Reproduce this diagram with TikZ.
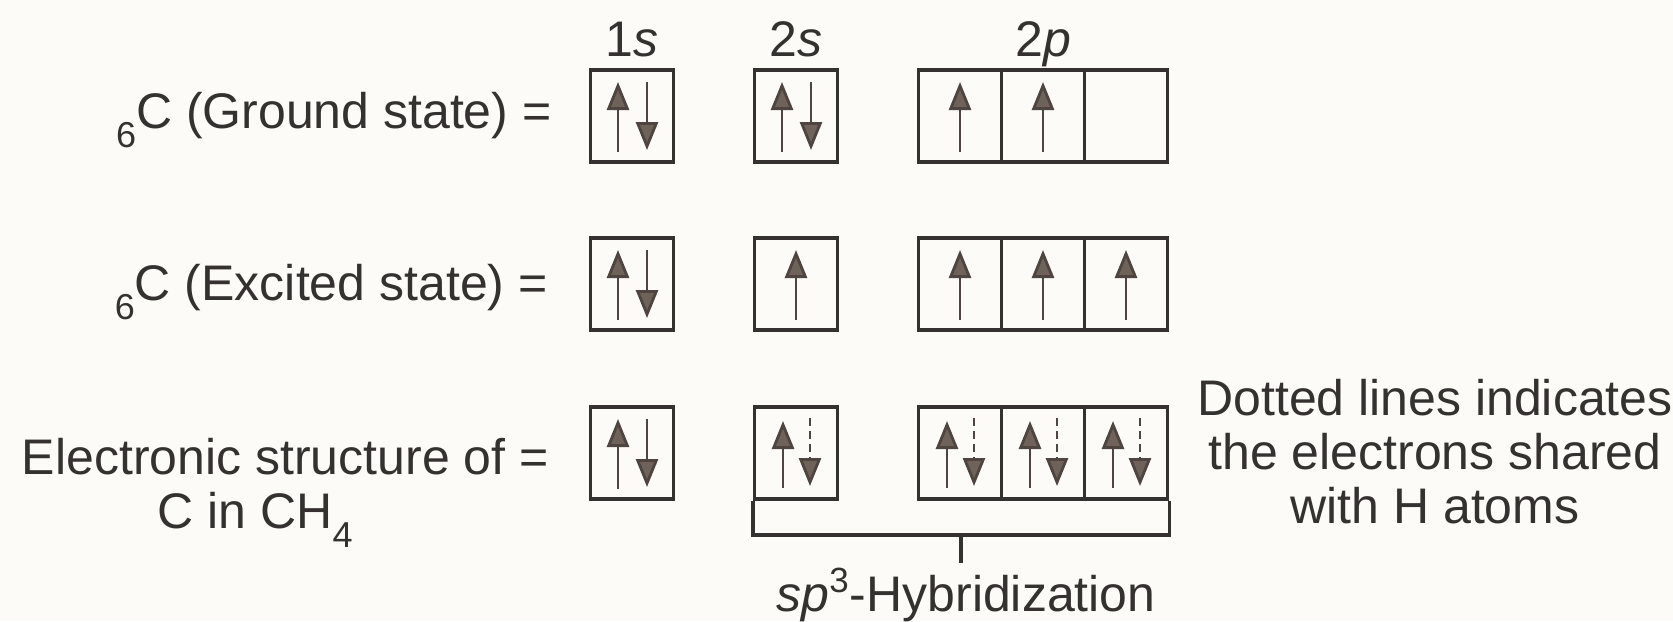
\documentclass[tikz,border=0pt]{standalone}
\usepackage{fontspec}
\setmainfont{Liberation Sans}
\usepackage{tikz}
\usetikzlibrary{
  arrows.meta,
  calc,
}
\definecolor{inkGray}{HTML}{363131}
\definecolor{spinBrown}{HTML}{4E4540}
\definecolor{spinFill}{HTML}{6E625A}
\definecolor{paperTone}{HTML}{FCFBF7}
\newcommand{\lowsub}[1]{\raisebox{-0.38em}{\fontsize{18}{18}\selectfont #1}}

\begin{document}
\begin{tikzpicture}[x=0.5pt, y=-0.5pt,
  orb/.style={draw=inkGray, line width=1.8pt, minimum width=41.5pt,
              minimum height=46pt, inner sep=0pt},
  spin/.style={draw=spinBrown, line width=1.4pt,
               -{Triangle[width=11pt, length=14pt, fill=spinFill]}},
  shared/.style={spin, dash pattern=on 4pt off 2.5pt},
  lbl/.style={text=inkGray, font=\fontsize{25}{27}\selectfont, inner sep=0pt},
]
  \useasboundingbox (0,0) rectangle (1673,621);
  \fill[paperTone] (0,0) rectangle (1673,621);

  % orbital boxes, one row per state
  \foreach \r/\y in {gr/116, ex/284, ch/453} {
    \node[orb] (\r-1s) at (632,\y) {};
    \node[orb] (\r-2s) at (796,\y) {};
    \foreach \k/\x in {1/960, 2/1043, 3/1126}
      \node[orb] (\r-p\k) at (\x,\y) {};
  }

  % shell labels
  \node[lbl, anchor=base] (t1s) at ([yshift=6pt]gr-1s.north) {1\textit{s}};
  \node[lbl, anchor=base] (t2s) at ([yshift=6pt]gr-2s.north) {2\textit{s}};
  \node[lbl, anchor=base] (t2p) at ([yshift=6pt]gr-p2.north) {2\textit{p}};

  % row labels
  \node[lbl, anchor=base east] (gr-lbl) at (552,128) {\lowsub{6}C (Ground state) =};
  \node[lbl, anchor=base east] (ex-lbl) at (548,300) {\lowsub{6}C (Excited state) =};
  \node[lbl, anchor=base east] (ch-lbl) at (549,474) {Electronic structure of =};
  \node[lbl, anchor=base] (ch-lbl2) at (255,528) {C in CH\lowsub{4}};

  % paired electrons
  \foreach \n in {gr-1s, gr-2s, ex-1s, ch-1s} {
    \draw[spin] ($(\n)+(-14,36)$) -- ($(\n)+(-14,-34)$);
    \draw[spin] ($(\n)+(15,-34)$) -- ($(\n)+(15,34)$);
  }
  % unpaired electrons
  \foreach \n in {gr-p1, gr-p2, ex-2s, ex-p1, ex-p2, ex-p3}
    \draw[spin] ($(\n)+(0,36)$) -- ($(\n)+(0,-34)$);
  % electrons shared with H
  \foreach \n in {ch-2s, ch-p1, ch-p2, ch-p3} {
    \draw[spin] ($(\n)+(-13,35)$) -- ($(\n)+(-13,-32)$);
    \draw[shared] ($(\n)+(14,-35)$) -- ($(\n)+(14,33)$);
  }

  % hybrid bracket
  \draw[inkGray, line width=1.8pt] (ch-2s.south west) -- ++(0,34) coordinate (brkL)
    -| (ch-p3.south east);
  \coordinate (brk) at ($(brkL)!0.5!(brkL -| ch-p3.south east)$);
  \coordinate (tickEnd) at ($(brk)+(0,28)$);
  \draw[inkGray, line width=1.6pt] (brk) -- (tickEnd);
  \node[lbl, anchor=base] (hyb) at (966,611) {\textit{sp}\textsuperscript{3}-Hybridization};

  % note
  \node[lbl, align=center] (note) at (1435,452)
    {Dotted lines indicates\\the electrons shared\\with H atoms};
\end{tikzpicture}
\end{document}
